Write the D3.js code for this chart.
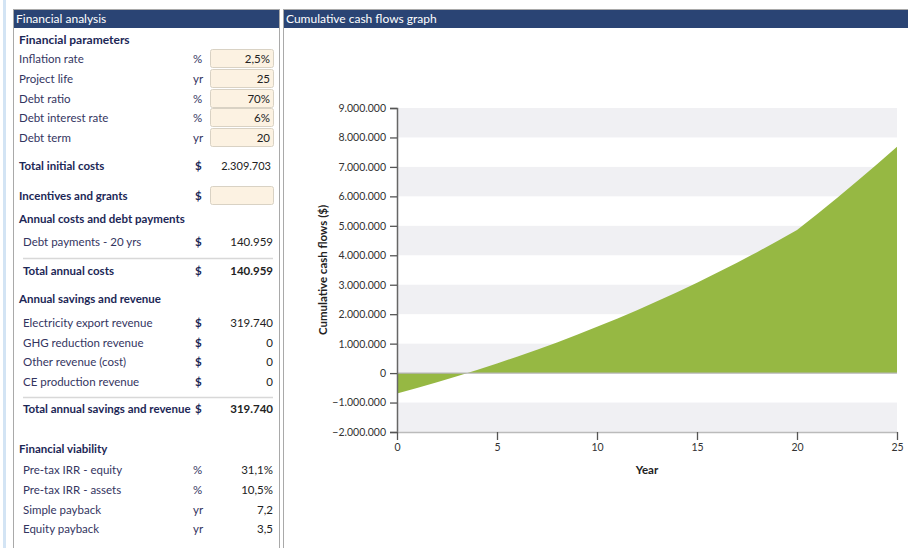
<!DOCTYPE html>
<html><head><meta charset="utf-8">
<script src="https://cdn.jsdelivr.net/npm/d3@7"></script>
<style>
html,body{margin:0;padding:0;background:#fff;}
svg{display:block;font-family:Lato,"Liberation Sans",sans-serif;}
</style></head>
<body><svg id="c" width="908" height="548"></svg>
<script>
// ---------- data ----------
const years = [0,1,2,3,4,5,6,7,8,9,10,11,12,13,14,15,16,17,18,19,20,21,22,23,24,25];
const cumulativeCashFlows = [-692911,-506136,-311168,-107802,104172,324969,554810,793921,1042534,1300886,1569221,1847788,2136844,2436650,2747475,3069595,3403292,3748855,4106581,4476775,4859747,5396777,5947232,6511449,7089771,7682551];
const yTicks = [-2000000,-1000000,0,1000000,2000000,3000000,4000000,5000000,6000000,7000000,8000000,9000000];
const xTicks = [0,5,10,15,20,25];

const paramLabels = ["Inflation rate","Project life","Debt ratio","Debt interest rate","Debt term"];
const paramUnits  = ["%","yr","%","%","yr"];
const paramValues = ["2,5%","25","70%","6%","20"];
const costLabels = ["Debt payments - 20 yrs"];
const costValues = ["140.959"];
const revenueLabels = ["Electricity export revenue","GHG reduction revenue","Other revenue (cost)","CE production revenue"];
const revenueValues = ["319.740","0","0","0"];
const viabilityLabels = ["Pre-tax IRR - equity","Pre-tax IRR - assets","Simple payback","Equity payback"];
const viabilityUnits  = ["%","%","yr","yr"];
const viabilityValues = ["31,1%","10,5%","7,2","3,5"];

// ---------- styles ----------
const navy = "#2a4474", headC = "#1c2756", labC = "#34355f", valC = "#222";
const svg = d3.select("#c");

// left decorations
svg.append("rect").attr("x",3).attr("y",0).attr("width",3).attr("height",548).attr("fill","#d3e4f4");
// panels
function panel(x,w,title){
  svg.append("rect").attr("x",x+0.5).attr("y",9.5).attr("width",w).attr("height",560)
    .attr("fill","#fff").attr("stroke","#a9a9a9");
  svg.append("rect").attr("x",x+1).attr("y",10).attr("width",w-1).attr("height",18).attr("fill",navy);
  svg.append("text").attr("x",x+3).attr("y",23).attr("fill","#fff").attr("font-size",12).text(title);
}
panel(13,266,"Financial analysis");
panel(283,640,"Cumulative cash flows graph");

// ---------- left table ----------
const L = svg.append("g");
function txt(x,y,t,o={}){
  return L.append("text").attr("x",x).attr("y",y).attr("fill",o.fill||labC)
    .attr("font-size",o.size||11.5).attr("font-weight",o.bold?"bold":"normal")
    .attr("text-anchor",o.anchor||"start").text(t);
}
function box(y){
  L.append("rect").attr("x",210.5).attr("y",y-9.5).attr("width",63).attr("height",18).attr("rx",2)
    .attr("fill","#fcf2e2").attr("stroke","#d9d2c4");
}
txt(19,44,"Financial parameters",{bold:true,fill:headC,size:12});
const pY = [59,79,99,118,138];
paramLabels.forEach((l,i)=>{
  txt(19,pY[i]+4,l);
  txt(193,pY[i]+4,paramUnits[i]);
  box(pY[i]);
  txt(270,pY[i]+4,paramValues[i],{fill:valC,anchor:"end"});
});
txt(19,170,"Total initial costs",{bold:true,fill:headC});
txt(195,170,"$",{bold:true,fill:headC});
txt(271,170,"2.309.703",{fill:valC,anchor:"end",size:11});
txt(19,200,"Incentives and grants",{bold:true,fill:headC});
txt(195,200,"$",{bold:true,fill:headC});
box(196);
txt(19,223,"Annual costs and debt payments",{bold:true,fill:headC});
costLabels.forEach((l,i)=>{
  txt(23,246,l);
  txt(195,246,"$",{bold:true,fill:headC});
  txt(273,246,costValues[i],{fill:valC,anchor:"end"});
});
L.append("line").attr("x1",23).attr("x2",273).attr("y1",258.5).attr("y2",258.5).attr("stroke","#d8d8d8").attr("stroke-width",1.5);
txt(23,275,"Total annual costs",{bold:true,fill:headC});
txt(195,275,"$",{bold:true,fill:headC});
txt(273,275,"140.959",{bold:true,fill:valC,anchor:"end"});
txt(19,303,"Annual savings and revenue",{bold:true,fill:headC});
const rY = [323,343,362,382];
revenueLabels.forEach((l,i)=>{
  txt(23,rY[i]+4,l);
  txt(195,rY[i]+4,"$",{bold:true,fill:headC});
  txt(273,rY[i]+4,revenueValues[i],{fill:valC,anchor:"end"});
});
L.append("line").attr("x1",23).attr("x2",273).attr("y1",397.5).attr("y2",397.5).attr("stroke","#d8d8d8").attr("stroke-width",1.5);
txt(23,413,"Total annual savings and revenue",{bold:true,fill:headC});
txt(195,413,"$",{bold:true,fill:headC});
txt(273,413,"319.740",{bold:true,fill:valC,anchor:"end"});
txt(19,453,"Financial viability",{bold:true,fill:headC});
const vY = [470,490,510,529];
viabilityLabels.forEach((l,i)=>{
  txt(23,vY[i]+4,l);
  txt(193,vY[i]+4,viabilityUnits[i]);
  txt(273,vY[i]+4,viabilityValues[i],{fill:valC,anchor:"end"});
});

// ---------- chart ----------
const x = d3.scaleLinear().domain([0,25]).range([397,897]);
const y = d3.scaleLinear().domain([-2000000,9000000]).range([432,108]);
const loc = d3.formatLocale({decimal:",",thousands:".",grouping:[3],currency:["","$"]});
const fmt = loc.format(",d");

const G = svg.append("g");
// bands
for(let i=0;i<yTicks.length-1;i++){
  const lo = yTicks[i], hi = yTicks[i+1];
  if(((9000000-hi)/1000000)%2===0){
    G.append("rect").attr("x",x(0)).attr("width",x(25)-x(0))
      .attr("y",y(hi)).attr("height",y(lo)-y(hi)).attr("fill","#f0f0f3");
  }
}
// area
const area = d3.area().x((d,i)=>x(years[i])).y0(y(0)).y1(d=>y(d));
G.append("path").datum(cumulativeCashFlows).attr("d",area).attr("fill","#96b843");
// zero line
G.append("line").attr("x1",x(0)).attr("x2",x(25)).attr("y1",y(0)).attr("y2",y(0)).attr("stroke","#b5b5b5").attr("stroke-width",1.2);

// y axis
const ya = G.append("g").attr("transform",`translate(${x(0)},0)`)
  .call(d3.axisLeft(y).tickValues(yTicks).tickFormat(fmt).tickSize(7).tickPadding(4));
ya.select(".domain").attr("stroke","#666").attr("stroke-width",1.5);
ya.selectAll(".tick line").attr("stroke","#555").attr("stroke-width",1.3);
ya.selectAll("text").attr("fill","#333").attr("font-size",10.5).attr("font-family","Lato,'Liberation Sans',sans-serif");

// x axis
const xa = G.append("g").attr("transform",`translate(0,${y(-2000000)})`)
  .call(d3.axisBottom(x).tickValues(xTicks).tickFormat(d3.format("d")).tickSizeInner(8).tickSizeOuter(0).tickPadding(4));
xa.select(".domain").attr("stroke","#bbb").attr("stroke-width",1.5);
xa.selectAll(".tick line").attr("stroke","#555").attr("stroke-width",1.3);
xa.selectAll("text").attr("fill","#333").attr("font-size",10.5).attr("font-family","Lato,'Liberation Sans',sans-serif");

// titles
G.append("text").attr("x",647).attr("y",474).attr("text-anchor","middle")
  .attr("font-size",11.5).attr("font-weight","bold").attr("fill","#222").text("Year");
G.append("text").attr("transform",`translate(327,${(y(9000000)+y(-2000000))/2}) rotate(-90)`)
  .attr("text-anchor","middle").attr("font-size",11.5).attr("font-weight","bold").attr("fill","#222")
  .text("Cumulative cash flows ($)");
</script></body></html>
